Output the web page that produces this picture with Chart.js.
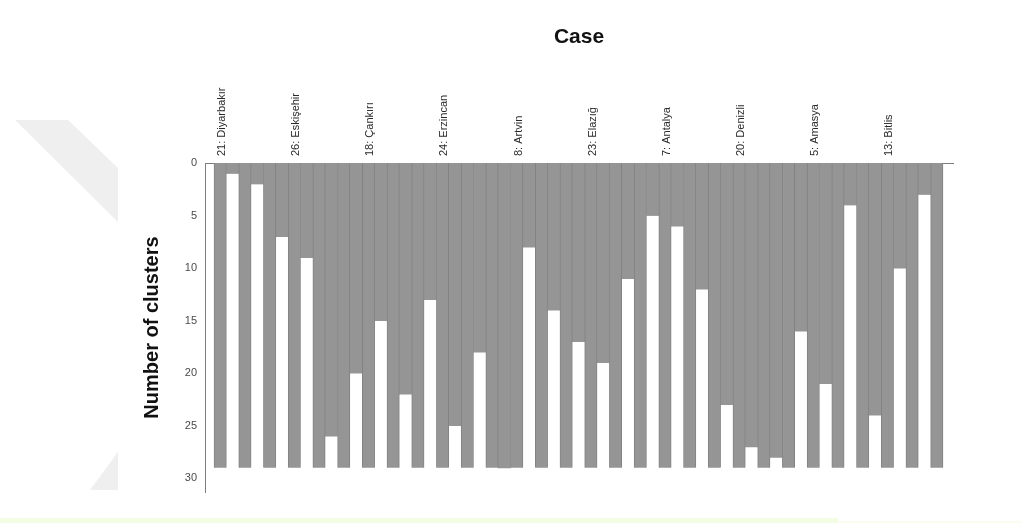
<!DOCTYPE html>
<html>
<head>
<meta charset="utf-8">
<title>Case</title>
<script src="https://cdn.jsdelivr.net/npm/chart.js@4/dist/chart.umd.min.js"></script>
<style>
  html, body { margin: 0; padding: 0; background: #ffffff; }
  #wrap { width: 1022px; height: 523px; }
</style>
</head>
<body>
<div id="wrap"><canvas id="icicle" width="1022" height="523"></canvas></div>
<script>
// Cases in dendrogram order (only every third case is labelled on the axis)
const caseLabels = [
  "21: Diyarbakır", "", "", "26: Eskişehir", "", "", "18: Çankırı", "", "",
  "24: Erzincan", "", "", "8: Artvin", "", "", "23: Elazığ", "", "",
  "7: Antalya", "", "", "20: Denizli", "", "", "5: Amasya", "", "",
  "13: Bitlis", "", ""
];
// Number of clusters down to which each neighbouring pair of cases stays joined
const joinLevels = [1, 2, 7, 9, 26, 20, 15, 22, 13, 25, 18, 29, 8, 14, 17, 19, 11,
                    5, 6, 12, 23, 27, 28, 16, 21, 4, 24, 10, 3];
const maxClusters = 29;
const yTicks = [0, 5, 10, 15, 20, 25, 30];

const GRAY = '#959595';

// Each case occupies an even slot, each join column the odd slot between two cases
const caseBars = caseLabels.map((_, i) => ({ x: 2 * i, y: [0, maxClusters] }));
const joinBars = joinLevels.map((v, j) => ({ x: 2 * j + 1, y: [0, v] }));

// Faint backdrop shapes and the pale strip along the bottom edge
const backdrop = {
  id: 'backdrop',
  beforeDraw(chart) {
    const ctx = chart.ctx;
    ctx.save();
    ctx.fillStyle = '#ffffff';
    ctx.fillRect(0, 0, chart.width, chart.height);
    ctx.fillStyle = '#efefef';
    ctx.beginPath();
    ctx.moveTo(15, 120); ctx.lineTo(68, 120); ctx.lineTo(118, 168); ctx.lineTo(118, 222);
    ctx.closePath(); ctx.fill();
    ctx.beginPath();
    ctx.moveTo(118, 452); ctx.lineTo(118, 490); ctx.lineTo(90, 490);
    ctx.closePath(); ctx.fill();
    ctx.fillStyle = '#f3fde4';
    ctx.fillRect(0, 518, 838, 5);
    ctx.fillStyle = '#fbfbf0';
    ctx.fillRect(838, 521, 184, 2);
    ctx.restore();
  }
};

new Chart(document.getElementById('icicle'), {
  type: 'bar',
  data: {
    datasets: [
      {
        label: 'Cases',
        data: caseBars,
        backgroundColor: GRAY,
        borderColor: '#828282',
        borderWidth: { left: 1, right: 1, top: 0, bottom: 0 },
        borderSkipped: false,
        grouped: false,
        barPercentage: 1,
        categoryPercentage: 1
      },
      {
        label: 'Joins',
        data: joinBars,
        backgroundColor: GRAY,
        borderWidth: 0,
        grouped: false,
        barPercentage: 1,
        categoryPercentage: 1
      }
    ]
  },
  options: {
    responsive: false,
    animation: false,
    devicePixelRatio: 1,
    layout: { padding: { left: 0, right: 69, top: 0, bottom: 31 } },
    plugins: {
      legend: { display: false },
      tooltip: { enabled: false },
      title: {
        display: true,
        text: 'Case',
        fullSize: false,
        color: '#111111',
        font: { family: 'Liberation Sans, Arial, sans-serif', size: 21, weight: 'bold' },
        padding: { top: 24.4, bottom: 9.4 }
      }
    },
    scales: {
      x: {
        type: 'linear',
        position: 'top',
        offset: false,
        min: -1.23,
        max: 59.31,
        grid: { display: false, drawTicks: false, offset: false },
        border: { display: true, color: '#7e7e7e', width: 1 },
        afterBuildTicks(scale) {
          scale.ticks = caseLabels.map((_, i) => ({ value: 2 * i }));
        },
        afterFit(scale) { scale.height = 104; },
        ticks: {
          autoSkip: false,
          minRotation: 90,
          maxRotation: 90,
          padding: 7,
          labelOffset: 15,
          color: '#2a2a2a',
          font: { family: 'Liberation Sans, Arial, sans-serif', size: 11 },
          callback: (value) => caseLabels[value / 2] || ''
        }
      },
      y: {
        type: 'linear',
        reverse: true,
        min: 0,
        max: 31.3,
        grid: { display: false, drawTicks: false },
        border: { display: true, color: '#7e7e7e', width: 1 },
        afterBuildTicks(scale) {
          scale.ticks = yTicks.map(v => ({ value: v }));
        },
        afterFit(scale) { scale.width = 205; },
        ticks: {
          padding: 8,
          color: '#4a4a4a',
          font: { family: 'Liberation Sans, Arial, sans-serif', size: 11 }
        },
        title: {
          display: true,
          text: 'Number of clusters',
          color: '#111111',
          font: { family: 'Liberation Sans, Arial, sans-serif', size: 20, weight: 'bold' },
          padding: { top: 140, bottom: 0 }
        }
      }
    }
  },
  plugins: [backdrop]
});
</script>
</body>
</html>
